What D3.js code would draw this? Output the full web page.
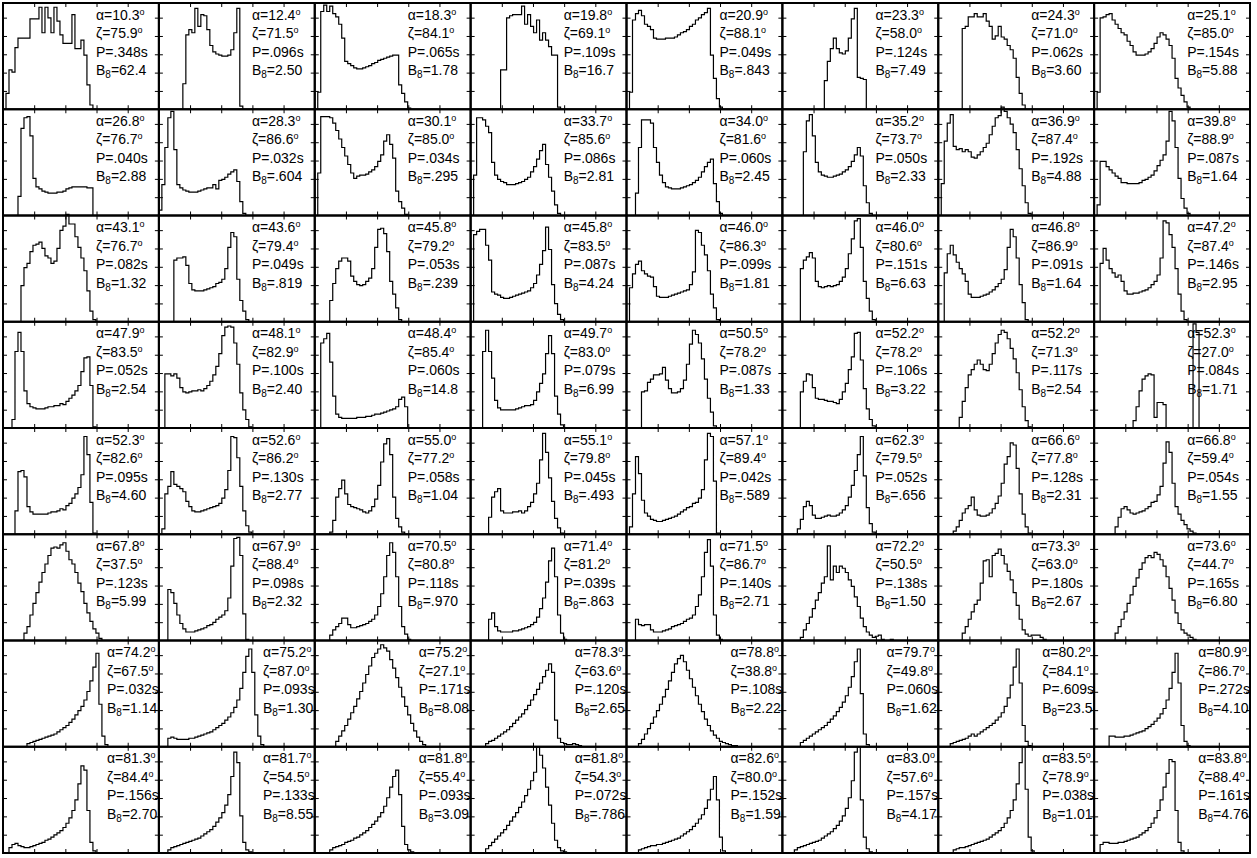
<!DOCTYPE html>
<html><head><meta charset="utf-8">
<script src="https://cdn.jsdelivr.net/npm/d3@7"></script>
<style>body{margin:0;background:#fff}svg{display:block}</style>
</head><body><svg id="c" width="1257" height="858"></svg>
<script>
const alphas=["10.3","12.4","18.3","19.8","20.9","23.3","24.3","25.1","26.8","28.3","30.1","33.7","34.0","35.2","36.9","39.8","43.1","43.6","45.8","45.8","46.0","46.0","46.8","47.2","47.9","48.1","48.4","49.7","50.5","52.2","52.2","52.3","52.3","52.6","55.0","55.1","57.1","62.3","66.6","66.8","67.8","67.9","70.5","71.4","71.5","72.2","73.3","73.6","74.2","75.2","75.2","78.3","78.8","79.7","80.2","80.9","81.3","81.7","81.8","81.8","82.6","83.0","83.5","83.8"];
const zetas=["75.9","71.5","84.1","69.1","88.1","58.0","71.0","85.0","76.7","86.6","85.0","85.6","81.6","73.7","87.4","88.9","76.7","79.4","79.2","83.5","86.3","80.6","86.9","87.4","83.5","82.9","85.4","83.0","78.2","78.2","71.3","27.0","82.6","86.2","77.2","79.8","89.4","79.5","77.8","59.4","37.5","88.4","80.8","81.2","86.7","50.5","63.0","44.7","67.5","87.0","27.1","63.6","38.8","49.8","84.1","86.7","84.4","54.5","55.4","54.3","80.0","57.6","78.9","88.4"];
const periods=[".348",".096",".065",".109",".049",".124",".062",".154",".040",".032",".034",".086",".060",".050",".192",".087",".082",".049",".053",".087",".099",".151",".091",".146",".052",".100",".060",".079",".087",".106",".117",".084",".095",".130",".058",".045",".042",".052",".128",".054",".123",".098",".118",".039",".140",".138",".180",".165",".032",".093",".171",".120",".108",".060",".609",".272",".156",".133",".093",".072",".152",".157",".038",".161"];
const bfields=["62.4","2.50","1.78","16.7",".843","7.49","3.60","5.88","2.88",".604",".295","2.81","2.45","2.33","4.88","1.64","1.32",".819",".239","4.24","1.81","6.63","1.64","2.95","2.54","2.40","14.8","6.99","1.33","3.22","2.54","1.71","4.60","2.77","1.04",".493",".589",".656","2.31","1.55","5.99","2.32",".970",".863","2.71","1.50","2.67","6.80","1.14","1.30","8.08","2.65","2.22","1.62","23.5","4.10","2.70","8.55","3.09",".786","1.59","4.17","1.01","4.76"];
// first bin index of each histogram
const starts=[1,8,1,10,1,14,8,1, 5,0,1,1,3,7,1,1, 6,5,5,1,1,6,2,2, 3,2,2,4,5,6,7,13, 4,1,5,6,1,5,5,7, 7,3,5,6,3,6,8,7, 8,3,7,5,4,6,4,5, 2,3,5,5,4,4,5,2];
// bin heights (fraction of panel height)
const profiles=[
[0.15,0.37,0.35,0.58,0.67,0.67,0.67,0.67,0.85,0.85,0.85,0.96,0.72,0.96,0.86,0.72,0.96,0.83,0.7,0.62,0.62,0.62,0.89,0.57,0.57,0.65,0.51,0.23,0.04],
[0.24,0.7,0.75,0.72,0.95,0.78,0.89,0.88,0.75,0.6,0.54,0.52,0.51,0.5,0.5,0.51,0.56,0.72,0.95,0.03],
[0.16,0.92,0.98,0.92,0.97,0.9,0.87,0.8,0.67,0.45,0.43,0.41,0.39,0.38,0.38,0.39,0.4,0.41,0.43,0.44,0.46,0.47,0.48,0.49,0.5,0.51,0.51,0.23,0.15,0.07,0.01],
[0.37,0.37,0.86,0.88,0.89,0.89,0.89,0.97,0.8,0.89,0.78,0.72,0.84,0.65,0.72,0.65,0.59,0.51,0.51,0.02],
[0.16,0.84,0.9,0.93,0.88,0.8,0.78,0.75,0.67,0.66,0.66,0.66,0.67,0.67,0.67,0.68,0.7,0.72,0.73,0.75,0.78,0.8,0.84,0.86,0.89,0.91,0.95,0.51,0.29,0.1,0.02],
[0.27,0.45,0.57,0.67,0.57,0.53,0.52,0.55,0.67,0.85,0.95,0.3,0.29,0.28],
[0.76,0.78,0.87,0.87,0.9,0.87,0.87,0.9,0.83,0.78,0.66,0.69,0.78,0.68,0.66,0.6,0.56,0.48,0.3,0.15,0.04],
[0.16,0.86,0.87,0.89,0.9,0.84,0.8,0.76,0.72,0.7,0.64,0.6,0.54,0.51,0.51,0.51,0.52,0.54,0.57,0.62,0.68,0.72,0.7,0.66,0.6,0.48,0.29,0.2,0.13,0.07,0.02],
[0.18,0.82,0.92,0.93,0.75,0.35,0.27,0.25,0.23,0.22,0.21,0.21,0.21,0.22,0.22,0.23,0.25,0.26,0.27,0.27,0.27,0.27,0.27,0.26,0.26],
[0.05,0.29,0.64,0.92,0.98,0.62,0.29,0.26,0.24,0.23,0.22,0.22,0.22,0.23,0.24,0.25,0.26,0.26,0.29,0.25,0.33,0.34,0.36,0.39,0.41,0.43,0.32,0.13,0.02],
[0.4,0.93,0.93,0.93,0.92,0.87,0.8,0.72,0.64,0.56,0.48,0.4,0.35,0.37,0.38,0.38,0.39,0.41,0.43,0.46,0.51,0.57,0.7,0.76,0.67,0.54,0.23,0.13,0.07,0.01],
[0.38,0.92,0.92,0.9,0.84,0.78,0.5,0.38,0.34,0.32,0.31,0.29,0.29,0.29,0.3,0.31,0.32,0.34,0.36,0.41,0.46,0.53,0.61,0.67,0.48,0.36,0.23,0.1,0.02],
[0.21,0.64,0.9,0.9,0.9,0.87,0.64,0.5,0.38,0.31,0.27,0.26,0.25,0.25,0.25,0.26,0.27,0.28,0.29,0.31,0.33,0.36,0.41,0.46,0.5,0.53,0.3,0.13,0.02],
[0.6,0.89,0.95,0.75,0.5,0.41,0.38,0.37,0.36,0.36,0.37,0.38,0.39,0.41,0.43,0.46,0.51,0.57,0.64,0.56,0.28,0.12,0.02],
[0.3,0.7,0.87,0.95,0.65,0.62,0.63,0.6,0.62,0.6,0.55,0.54,0.57,0.6,0.64,0.68,0.76,0.84,0.92,0.94,1.02,0.98,0.92,0.86,0.78,0.62,0.44,0.28,0.12,0.02],
[0.1,0.51,0.51,0.46,0.43,0.4,0.37,0.35,0.31,0.31,0.3,0.3,0.3,0.3,0.31,0.33,0.34,0.36,0.38,0.42,0.47,0.52,0.57,0.7,0.98,0.89,0.64,0.35,0.16,0.07,0.02],
[0.34,0.51,0.55,0.66,0.72,0.73,0.75,0.69,0.62,0.6,0.55,0.57,0.69,0.86,0.9,1.01,0.92,0.92,0.8,0.7,0.6,0.48,0.29,0.1,0.02],
[0.58,0.6,0.6,0.61,0.53,0.36,0.3,0.29,0.29,0.29,0.3,0.31,0.32,0.33,0.36,0.37,0.4,0.5,0.7,0.84,0.8,0.4,0.2,0.1,0.02],
[0.2,0.36,0.5,0.57,0.6,0.6,0.57,0.43,0.38,0.35,0.34,0.35,0.38,0.41,0.5,0.7,0.87,0.88,0.83,0.66,0.38,0.26,0.13,0.02],
[0.82,0.85,0.87,0.87,0.72,0.58,0.28,0.26,0.25,0.23,0.22,0.22,0.23,0.24,0.25,0.26,0.27,0.28,0.29,0.32,0.36,0.44,0.54,0.67,0.89,0.68,0.35,0.17,0.07,0.02],
[0.32,0.45,0.54,0.57,0.48,0.45,0.43,0.42,0.33,0.24,0.23,0.23,0.23,0.24,0.25,0.26,0.27,0.28,0.29,0.3,0.35,0.47,0.86,0.84,0.72,0.63,0.48,0.26,0.13,0.02],
[0.5,0.58,0.61,0.65,0.6,0.38,0.33,0.32,0.33,0.34,0.33,0.34,0.35,0.38,0.42,0.5,0.64,0.78,0.95,0.97,0.7,0.38,0.22,0.1,0.02],
[0.46,0.64,0.72,0.63,0.56,0.5,0.45,0.38,0.26,0.23,0.23,0.23,0.24,0.25,0.26,0.28,0.3,0.33,0.36,0.4,0.49,0.7,0.87,0.8,0.6,0.35,0.18,0.02],
[0.55,0.69,0.58,0.5,0.46,0.42,0.44,0.38,0.29,0.26,0.26,0.27,0.27,0.28,0.29,0.3,0.32,0.35,0.38,0.44,0.6,0.95,0.93,0.82,0.7,0.5,0.26,0.1,0.02],
[0.08,0.72,0.9,0.72,0.35,0.23,0.2,0.19,0.18,0.18,0.18,0.19,0.2,0.2,0.21,0.21,0.23,0.22,0.25,0.28,0.31,0.35,0.4,0.53,0.66,0.67,0.4,0.01],
[0.51,0.51,0.49,0.51,0.47,0.38,0.34,0.33,0.34,0.35,0.35,0.36,0.35,0.37,0.4,0.44,0.5,0.58,0.7,0.87,0.95,0.96,0.95,0.8,0.6,0.33,0.17,0.08,0.01],
[0.8,0.84,0.89,0.62,0.3,0.13,0.1,0.09,0.09,0.09,0.09,0.09,0.1,0.1,0.1,0.11,0.11,0.12,0.13,0.13,0.14,0.15,0.16,0.17,0.18,0.2,0.27,0.29,0.2],
[0.72,0.92,0.72,0.47,0.26,0.19,0.17,0.17,0.17,0.17,0.17,0.18,0.19,0.2,0.21,0.21,0.22,0.26,0.34,0.42,0.51,0.7,0.87,0.7,0.3,0.13,0.03],
[0.34,0.35,0.43,0.46,0.5,0.5,0.51,0.57,0.45,0.37,0.33,0.33,0.34,0.37,0.45,0.6,0.79,0.92,0.88,0.8,0.65,0.46,0.28,0.15,0.02],
[0.34,0.44,0.51,0.5,0.38,0.28,0.27,0.27,0.26,0.25,0.25,0.24,0.23,0.27,0.34,0.42,0.55,0.67,0.89,0.9,0.64,0.37,0.18,0.08,0.02],
[0.1,0.25,0.38,0.5,0.55,0.6,0.64,0.6,0.55,0.54,0.6,0.7,0.8,0.88,0.92,0.9,0.84,0.75,0.65,0.52,0.36,0.2,0.07,0.01],
[0.07,0.2,0.35,0.46,0.49,0.51,0.5,0.1,0.24,0.24,0.22,0,0,0,0,0,0,0,0,0,0.98,0.9],
[0.22,0.59,0.6,0.54,0.26,0.21,0.19,0.19,0.19,0.19,0.19,0.2,0.21,0.21,0.22,0.24,0.23,0.27,0.29,0.34,0.38,0.44,0.56,0.92,0.75,0.3,0.01],
[0.05,0.38,0.45,0.59,0.47,0.45,0.43,0.4,0.31,0.26,0.22,0.21,0.21,0.22,0.23,0.24,0.25,0.26,0.27,0.29,0.34,0.42,0.6,0.92,0.91,0.72,0.45,0.22,0.08,0.02],
[0.02,0.13,0.35,0.43,0.51,0.38,0.28,0.26,0.25,0.24,0.23,0.21,0.2,0.22,0.26,0.33,0.46,0.68,0.85,0.9,0.75,0.35,0.15,0.07,0.02],
[0.16,0.35,0.4,0.43,0.22,0.2,0.2,0.2,0.21,0.21,0.22,0.2,0.22,0.26,0.3,0.38,0.48,0.7,0.95,0.77,0.53,0.31,0.15,0.06,0.01],
[0.07,0.38,0.73,0.57,0.32,0.2,0.17,0.14,0.13,0.12,0.12,0.13,0.14,0.15,0.16,0.17,0.19,0.21,0.23,0.25,0.26,0.29,0.3,0.34,0.42,0.7,0.95,0.92,0.5,0.01],
[0.05,0.14,0.26,0.31,0.27,0.18,0.15,0.15,0.16,0.17,0.18,0.17,0.17,0.18,0.2,0.23,0.27,0.35,0.46,0.6,0.75,0.92,0.55,0.25,0.1,0.02],
[0.03,0.07,0.13,0.2,0.24,0.27,0.35,0.23,0.18,0.17,0.17,0.18,0.2,0.24,0.29,0.36,0.48,0.66,0.73,0.86,0.84,0.62,0.38,0.19,0.07,0.01],
[0.07,0.16,0.24,0.26,0.23,0.2,0.19,0.2,0.21,0.22,0.24,0.26,0.3,0.31,0.37,0.45,0.67,0.87,0.77,0.48,0.26,0.19,0.13,0.09,0.05,0.03,0.01],
[0.07,0.13,0.24,0.35,0.45,0.55,0.64,0.72,0.8,0.87,0.88,0.87,0.9,0.92,0.84,0.76,0.72,0.64,0.54,0.46,0.35,0.26,0.18,0.11,0.07,0.02],
[0.48,0.45,0.35,0.24,0.16,0.11,0.08,0.08,0.08,0.09,0.1,0.11,0.12,0.14,0.15,0.17,0.2,0.22,0.24,0.28,0.4,0.7,0.96,0.97,0.8,0.25,0.01],
[0.05,0.1,0.13,0.16,0.21,0.21,0.15,0.12,0.12,0.13,0.14,0.15,0.16,0.18,0.2,0.24,0.32,0.44,0.6,0.8,0.92,0.83,0.6,0.32,0.13,0.06,0.01],
[0.2,0.26,0.13,0.09,0.08,0.08,0.08,0.08,0.09,0.09,0.1,0.11,0.12,0.13,0.15,0.17,0.22,0.3,0.4,0.55,0.75,0.87,0.6,0.24,0.07,0.01],
[0.2,0.15,0.14,0.15,0.15,0.1,0.08,0.08,0.08,0.09,0.1,0.11,0.13,0.14,0.15,0.16,0.18,0.2,0.21,0.24,0.32,0.43,0.6,0.83,0.95,0.7,0.24,0.05,0.01],
[0.03,0.1,0.16,0.22,0.3,0.38,0.45,0.54,0.6,0.89,0.57,0.7,0.64,0.7,0.68,0.64,0.57,0.51,0.41,0.32,0.21,0.13,0.08,0.05,0.03,0.04,0.05,0.01,0,0,0.01],
[0.07,0.13,0.2,0.27,0.34,0.38,0.54,0.75,0.76,0.6,0.8,0.82,0.86,0.8,0.72,0.65,0.57,0.45,0.33,0.2,0.1,0.06,0.04,0.05,0.05,0.05,0.03,0.01],
[0.07,0.13,0.2,0.27,0.35,0.43,0.51,0.59,0.67,0.73,0.78,0.8,0.78,0.83,0.81,0.76,0.7,0.6,0.49,0.38,0.26,0.16,0.1,0.07,0.05,0.03,0.01],
[0.03,0.04,0.05,0.06,0.07,0.08,0.09,0.1,0.11,0.12,0.14,0.16,0.18,0.2,0.23,0.26,0.3,0.34,0.38,0.44,0.52,0.62,0.75,0.88,0.4,0.1,0.02],
[0.08,0.09,0.08,0.07,0.07,0.07,0.07,0.08,0.08,0.09,0.1,0.11,0.12,0.13,0.14,0.16,0.18,0.2,0.22,0.25,0.28,0.32,0.37,0.44,0.55,0.7,0.85,0.92,0.7,0.3,0.1,0.02],
[0.05,0.1,0.15,0.2,0.26,0.32,0.38,0.45,0.52,0.6,0.68,0.76,0.84,0.88,0.92,0.96,0.93,0.9,0.82,0.74,0.65,0.56,0.47,0.38,0.3,0.22,0.15,0.09,0.05,0.02],
[0.03,0.05,0.06,0.08,0.1,0.12,0.14,0.16,0.19,0.22,0.25,0.28,0.31,0.35,0.39,0.44,0.49,0.54,0.6,0.66,0.72,0.78,0.7,0.25,0.08,0.04,0.03,0.02,0.02,0.03,0.02,0.01],
[0.03,0.07,0.12,0.17,0.22,0.28,0.34,0.4,0.47,0.54,0.62,0.7,0.78,0.83,0.86,0.8,0.72,0.64,0.56,0.48,0.4,0.33,0.26,0.2,0.15,0.11,0.08,0.05,0.04,0.03,0.02,0.01,0.01],
[0.04,0.06,0.08,0.1,0.12,0.14,0.16,0.18,0.2,0.23,0.26,0.29,0.33,0.37,0.42,0.48,0.56,0.66,0.8,0.92,0.5,0.12,0.02],
[0.03,0.04,0.05,0.06,0.07,0.08,0.1,0.12,0.1,0.12,0.14,0.16,0.18,0.2,0.22,0.25,0.28,0.32,0.38,0.46,0.58,0.75,0.92,0.6,0.2,0.05,0.01],
[0.1,0.1,0.09,0.09,0.09,0.1,0.1,0.11,0.12,0.13,0.14,0.15,0.17,0.19,0.21,0.24,0.27,0.31,0.36,0.44,0.55,0.7,0.88,0.6,0.2,0.05,0.01],
[0.05,0.08,0.09,0.07,0.06,0.05,0.05,0.06,0.07,0.08,0.09,0.1,0.12,0.13,0.15,0.17,0.19,0.21,0.24,0.28,0.33,0.4,0.5,0.65,0.82,0.78,0.4,0.1,0.02],
[0.03,0.05,0.06,0.07,0.08,0.09,0.1,0.11,0.12,0.13,0.14,0.16,0.18,0.2,0.22,0.25,0.29,0.33,0.38,0.45,0.55,0.72,0.95,0.85,0.35,0.1,0.03,0.01],
[0.03,0.05,0.06,0.07,0.08,0.1,0.11,0.12,0.14,0.15,0.17,0.19,0.21,0.24,0.27,0.3,0.34,0.38,0.44,0.52,0.62,0.72,0.78,0.55,0.25,0.08,0.03,0.01],
[0.04,0.07,0.1,0.13,0.16,0.19,0.22,0.26,0.3,0.34,0.38,0.43,0.48,0.54,0.6,0.68,0.76,1.0,0.92,0.8,0.62,0.45,0.28,0.12,0.05,0.02,0.01],
[0.03,0.04,0.05,0.06,0.07,0.07,0.08,0.08,0.09,0.1,0.11,0.12,0.13,0.14,0.16,0.18,0.2,0.22,0.25,0.28,0.32,0.36,0.42,0.5,0.6,0.72,0.5,0.15,0.02],
[0.03,0.05,0.06,0.07,0.08,0.09,0.1,0.11,0.12,0.14,0.16,0.18,0.2,0.23,0.26,0.3,0.35,0.42,0.52,0.68,0.95,1.0,0.5,0.15,0.04,0.01],
[0.03,0.04,0.05,0.05,0.06,0.07,0.08,0.09,0.1,0.11,0.12,0.13,0.15,0.17,0.19,0.21,0.24,0.28,0.33,0.4,0.5,0.65,0.85,1.0,0.6,0.15,0.02],
[0.08,0.1,0.1,0.09,0.09,0.09,0.1,0.1,0.11,0.12,0.13,0.14,0.15,0.17,0.19,0.21,0.24,0.28,0.33,0.4,0.5,0.62,0.75,0.88,0.86,0.4,0.1,0.02]
];
const xTicks=[1,2,3,4];
const yTicks=[1,2,3,4,5];

const svg=d3.select('#c');
const N=8;
const gx=d3.scaleBand().domain(d3.range(N)).range([3,1250]);
const gy=d3.scaleBand().domain(d3.range(N)).range([3,853]);
const pw=gx.bandwidth(), ph=gy.bandwidth();
const x=d3.scaleLinear().domain([0,52]).range([0,pw]);
const y=d3.scaleLinear().domain([0,1]).range([ph,0]);
const xt=d3.scaleLinear().domain([0,5]).range([0,pw]);
const yt=d3.scaleLinear().domain([0,5.8]).range([ph,0]);
const line=d3.line().x(d=>x(d[0])).y(d=>y(d[1]));
const font='"Liberation Sans", Arial, Helvetica, sans-serif';

profiles.forEach((vals,i)=>{
  const r=Math.floor(i/N), c=i%N;
  const g=svg.append('g').attr('transform',`translate(${gx(c)},${gy(r)})`);
  // ticks
  const tk=(ax,tr)=>{const a=g.append('g').attr('transform',tr).call(ax);a.select('.domain').remove();a.selectAll('line').attr('stroke','#000').attr('stroke-width',1);};
  tk(d3.axisBottom(xt).tickValues(xTicks).tickSize(-4).tickFormat(''),`translate(0,${ph})`);
  tk(d3.axisTop(xt).tickValues(xTicks).tickSize(-4).tickFormat(''),`translate(0,0)`);
  tk(d3.axisLeft(yt).tickValues(yTicks).tickSize(-4).tickFormat(''),`translate(0,0)`);
  tk(d3.axisRight(yt).tickValues(yTicks).tickSize(-4).tickFormat(''),`translate(${pw},0)`);
  // histogram
  const s=starts[i];
  const pts=[[s,0]];
  vals.forEach((v,k)=>{pts.push([s+k,v]);pts.push([s+k+1,v]);});
  pts.push([s+vals.length,0]);
  g.append('path').attr('d',line(pts)).attr('fill','none').attr('stroke','#000').attr('stroke-width',1.2);
  // labels
  const tx=r>=6?104:93;
  const t=g.append('g').attr('font-family',font).attr('font-size',14).attr('fill','#000');
  const deg=(sel,pre,val)=>{const e=sel.append('text').attr('x',tx);e.append('tspan').text(pre+'='+val);e.append('tspan').attr('font-size',9).attr('dy',-5).text('o');return e;};
  deg(t,'\u03b1',alphas[i]).attr('y',16.5);
  deg(t,'\u03b6',zetas[i]).attr('y',35);
  t.append('text').attr('x',tx).attr('y',53.5).text('P='+periods[i]+'s');
  const b=t.append('text').attr('x',tx).attr('y',72);
  b.append('tspan').text('B');
  b.append('tspan').attr('font-size',10).attr('dy',3).text('8');
  b.append('tspan').attr('dy',-3).text('='+bfields[i]);
  // frame
  g.append('rect').attr('width',pw).attr('height',ph).attr('fill','none').attr('stroke','#000').attr('stroke-width',2);
});
</script></body></html>
